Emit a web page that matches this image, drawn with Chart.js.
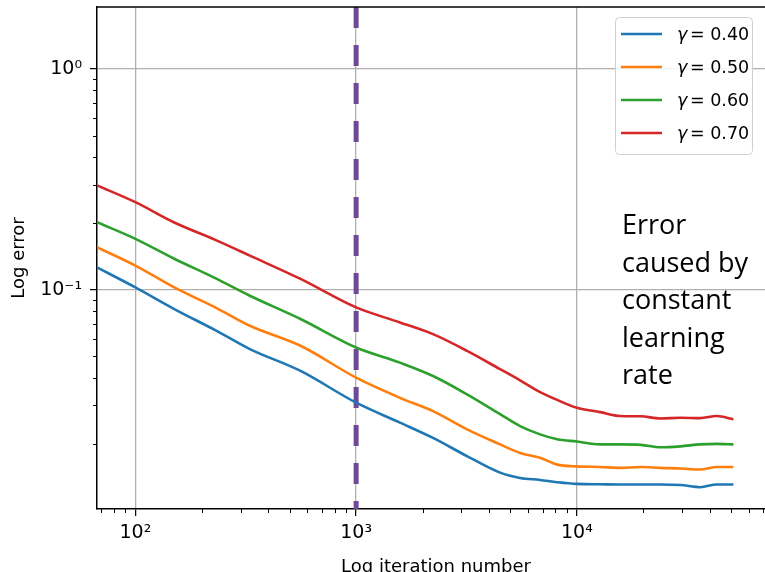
<!DOCTYPE html>
<html>
<head>
<meta charset="utf-8">
<script src="https://cdn.jsdelivr.net/npm/chart.js@4.4.1/dist/chart.umd.min.js"></script>
<style>
  html, body { margin: 0; padding: 0; overflow: hidden; background: #fff; }
  #wrap { width: 790px; height: 590px; }
</style>
</head>
<body>
<div id="wrap"><canvas id="chart" width="790" height="590"></canvas></div>
<script>
// values
const iterations = [67, 100, 150, 230, 330, 560, 1000, 1580, 2230, 3180, 4490, 5530, 6815, 8140,
  10000, 12750, 15700, 19500, 23900, 29500, 36200, 43000, 51200];

const error040 = [0.1266, 0.1027, 0.0820, 0.0658, 0.0540, 0.0430, 0.0309, 0.0251, 0.0214, 0.0177, 0.0149, 0.0141, 0.0138, 0.01349,
  0.01325, 0.0132, 0.01317, 0.01317, 0.01317, 0.0131, 0.0128, 0.01317, 0.01317];
const error050 = [0.1561, 0.1289, 0.1027, 0.0834, 0.0689, 0.0559, 0.0401, 0.0325, 0.0283, 0.0234, 0.0200, 0.0183, 0.0174, 0.0162,
  0.0159, 0.0158, 0.01566, 0.0158, 0.01566, 0.01556, 0.0154, 0.0158, 0.0158];
const error060 = [0.2027, 0.1704, 0.1385, 0.1131, 0.0942, 0.0739, 0.0549, 0.0469, 0.0408, 0.0337, 0.0274, 0.0242, 0.0222, 0.0211,
  0.0206, 0.0200, 0.0200, 0.0199, 0.0194, 0.0196, 0.0200, 0.0201, 0.0200];
const error070 = [0.2975, 0.2497, 0.2020, 0.1686, 0.1431, 0.1122, 0.0834, 0.0713, 0.0631, 0.0530, 0.0438, 0.0390, 0.0345, 0.0318,
  0.0293, 0.0280, 0.0269, 0.0268, 0.0262, 0.0264, 0.0263, 0.0269, 0.0260];

const gammaLabels = ["0.40", "0.50", "0.60", "0.70"];
const gammaColors = ["#1f77b4", "#ff7f0e", "#2ca02c", "#d62728"];

const xTicks = [100, 1000, 10000];
const yTicks = [0.1, 1];
const xRange = [67, 79000];
const yRange = [0.0102, 1.91];
const markerIteration = 1000;
const noteLines = ["Error", "caused by", "constant", "learning", "rate"];

const supChars = { "-": "\u207B", "0": "\u2070", "1": "\u00B9", "2": "\u00B2", "3": "\u00B3",
  "4": "\u2074", "5": "\u2075", "6": "\u2076", "7": "\u2077", "8": "\u2078", "9": "\u2079" };
function powLabel(v) {
  const e = String(Math.round(Math.log10(v)));
  return "10" + e.split("").map(c => supChars[c]).join("");
}

const series = [error040, error050, error060, error070];
const datasets = series.map((vals, i) => ({
  label: "\u03B3 = " + gammaLabels[i],
  data: iterations.map((x, j) => ({ x: x, y: vals[j] })),
  borderColor: gammaColors[i],
  borderWidth: 2.6,
  pointRadius: 0,
  cubicInterpolationMode: "monotone",
  fill: false
}));
datasets.push({
  label: "marker",
  data: [{ x: markerIteration, y: yRange[1] }, { x: markerIteration, y: yRange[0] }],
  borderColor: "#6e4a96",
  borderWidth: 5,
  borderDash: [21, 17],
  borderCapStyle: "butt",
  pointRadius: 0,
  fill: false
});

// minor ticks, top spine, legend box and the note text
const extras = {
  id: "extras",
  afterDraw(chart) {
    const ctx = chart.ctx;
    const area = chart.chartArea;
    const xs = chart.scales.x, ys = chart.scales.y;
    ctx.save();
    ctx.strokeStyle = "#000";
    ctx.lineWidth = 1;
    for (let k = 1; k <= 4; k++) {
      for (let m = 2; m <= 9; m++) {
        const v = m * Math.pow(10, k);
        if (v < xs.min || v > xs.max) continue;
        const px = Math.round(xs.getPixelForValue(v)) + 0.5;
        ctx.beginPath(); ctx.moveTo(px, area.bottom); ctx.lineTo(px, area.bottom + 4); ctx.stroke();
      }
    }
    for (let k = -2; k <= 0; k++) {
      for (let m = 2; m <= 9; m++) {
        const v = m * Math.pow(10, k);
        if (v < ys.min || v > ys.max) continue;
        const py = Math.round(ys.getPixelForValue(v)) + 0.5;
        ctx.beginPath(); ctx.moveTo(area.left - 4, py); ctx.lineTo(area.left, py); ctx.stroke();
      }
    }
    ctx.lineWidth = 1.5;
    ctx.beginPath(); ctx.moveTo(area.left, area.top); ctx.lineTo(area.right, area.top); ctx.stroke();

    // legend
    const bx = 615, by = 17, bw = 137, bh = 137;
    ctx.fillStyle = "rgba(255,255,255,0.85)";
    ctx.strokeStyle = "#d0d0d0";
    ctx.lineWidth = 1;
    ctx.beginPath();
    ctx.roundRect(bx + 0.5, by + 0.5, bw, bh, 4);
    ctx.fill(); ctx.stroke();
    chart.data.datasets.slice(0, 4).forEach((ds, i) => {
      const y = 34 + i * 33;
      ctx.strokeStyle = ds.borderColor;
      ctx.lineWidth = 2.6;
      ctx.beginPath(); ctx.moveTo(621, y); ctx.lineTo(662, y); ctx.stroke();
      ctx.fillStyle = "#000";
      ctx.textBaseline = "middle";
      ctx.textAlign = "left";
      ctx.font = "italic 17.5px 'DejaVu Sans'";
      ctx.fillText("\u03B3", 677, y + 1);
      ctx.font = "17.5px 'DejaVu Sans'";
      ctx.fillText("= " + gammaLabels[i], 690, y + 1);
    });

    // note
    ctx.fillStyle = "#000";
    ctx.textBaseline = "alphabetic";
    ctx.font = "27px 'Open Sans'";
    noteLines.forEach((t, i) => ctx.fillText(t, 622, 234 + i * 37.5));
    ctx.restore();
  }
};

Chart.defaults.font.family = "'DejaVu Sans'";
Chart.defaults.color = "#000";

new Chart(document.getElementById("chart"), {
  type: "line",
  data: { datasets: datasets },
  options: {
    responsive: false,
    animation: false,
    devicePixelRatio: 1,
    layout: { padding: { left: 0, top: 7, right: 15, bottom: 0 } },
    plugins: { legend: { display: false }, tooltip: { enabled: false } },
    scales: {
      x: {
        type: "logarithmic",
        min: xRange[0],
        max: xRange[1],
        afterBuildTicks: s => { s.ticks = xTicks.map(v => ({ value: v })); },
        afterFit: s => { s.height = 81; s.paddingLeft = 0; s.paddingRight = 0; },
        grid: { color: "#b0b0b0", lineWidth: 1.3, tickLength: 7, tickColor: "#000", tickWidth: 1.2 },
        border: { color: "#000", width: 1.5 },
        ticks: { callback: v => powLabel(v), font: { size: 19 }, color: "#000", padding: 6,
                 maxRotation: 0, autoSkip: false },
        title: { display: true, text: "Log iteration number", font: { size: 18 }, color: "#000",
                 padding: { top: 0, bottom: 12 } }
      },
      y: {
        type: "logarithmic",
        min: yRange[0],
        max: yRange[1],
        afterBuildTicks: s => { s.ticks = yTicks.map(v => ({ value: v })); },
        afterFit: s => { s.width = 97; s.paddingTop = 0; s.paddingBottom = 0; },
        grid: { color: "#b0b0b0", lineWidth: 1.3, tickLength: 7, tickColor: "#000", tickWidth: 1.2 },
        border: { color: "#000", width: 1.5 },
        ticks: { callback: v => powLabel(v), font: { size: 19 }, color: "#000", padding: 8 },
        title: { display: true, text: "Log error", font: { size: 18 }, color: "#000",
                 padding: { top: 9, bottom: 0 } }
      }
    }
  },
  plugins: [extras]
});
</script>
</body>
</html>
